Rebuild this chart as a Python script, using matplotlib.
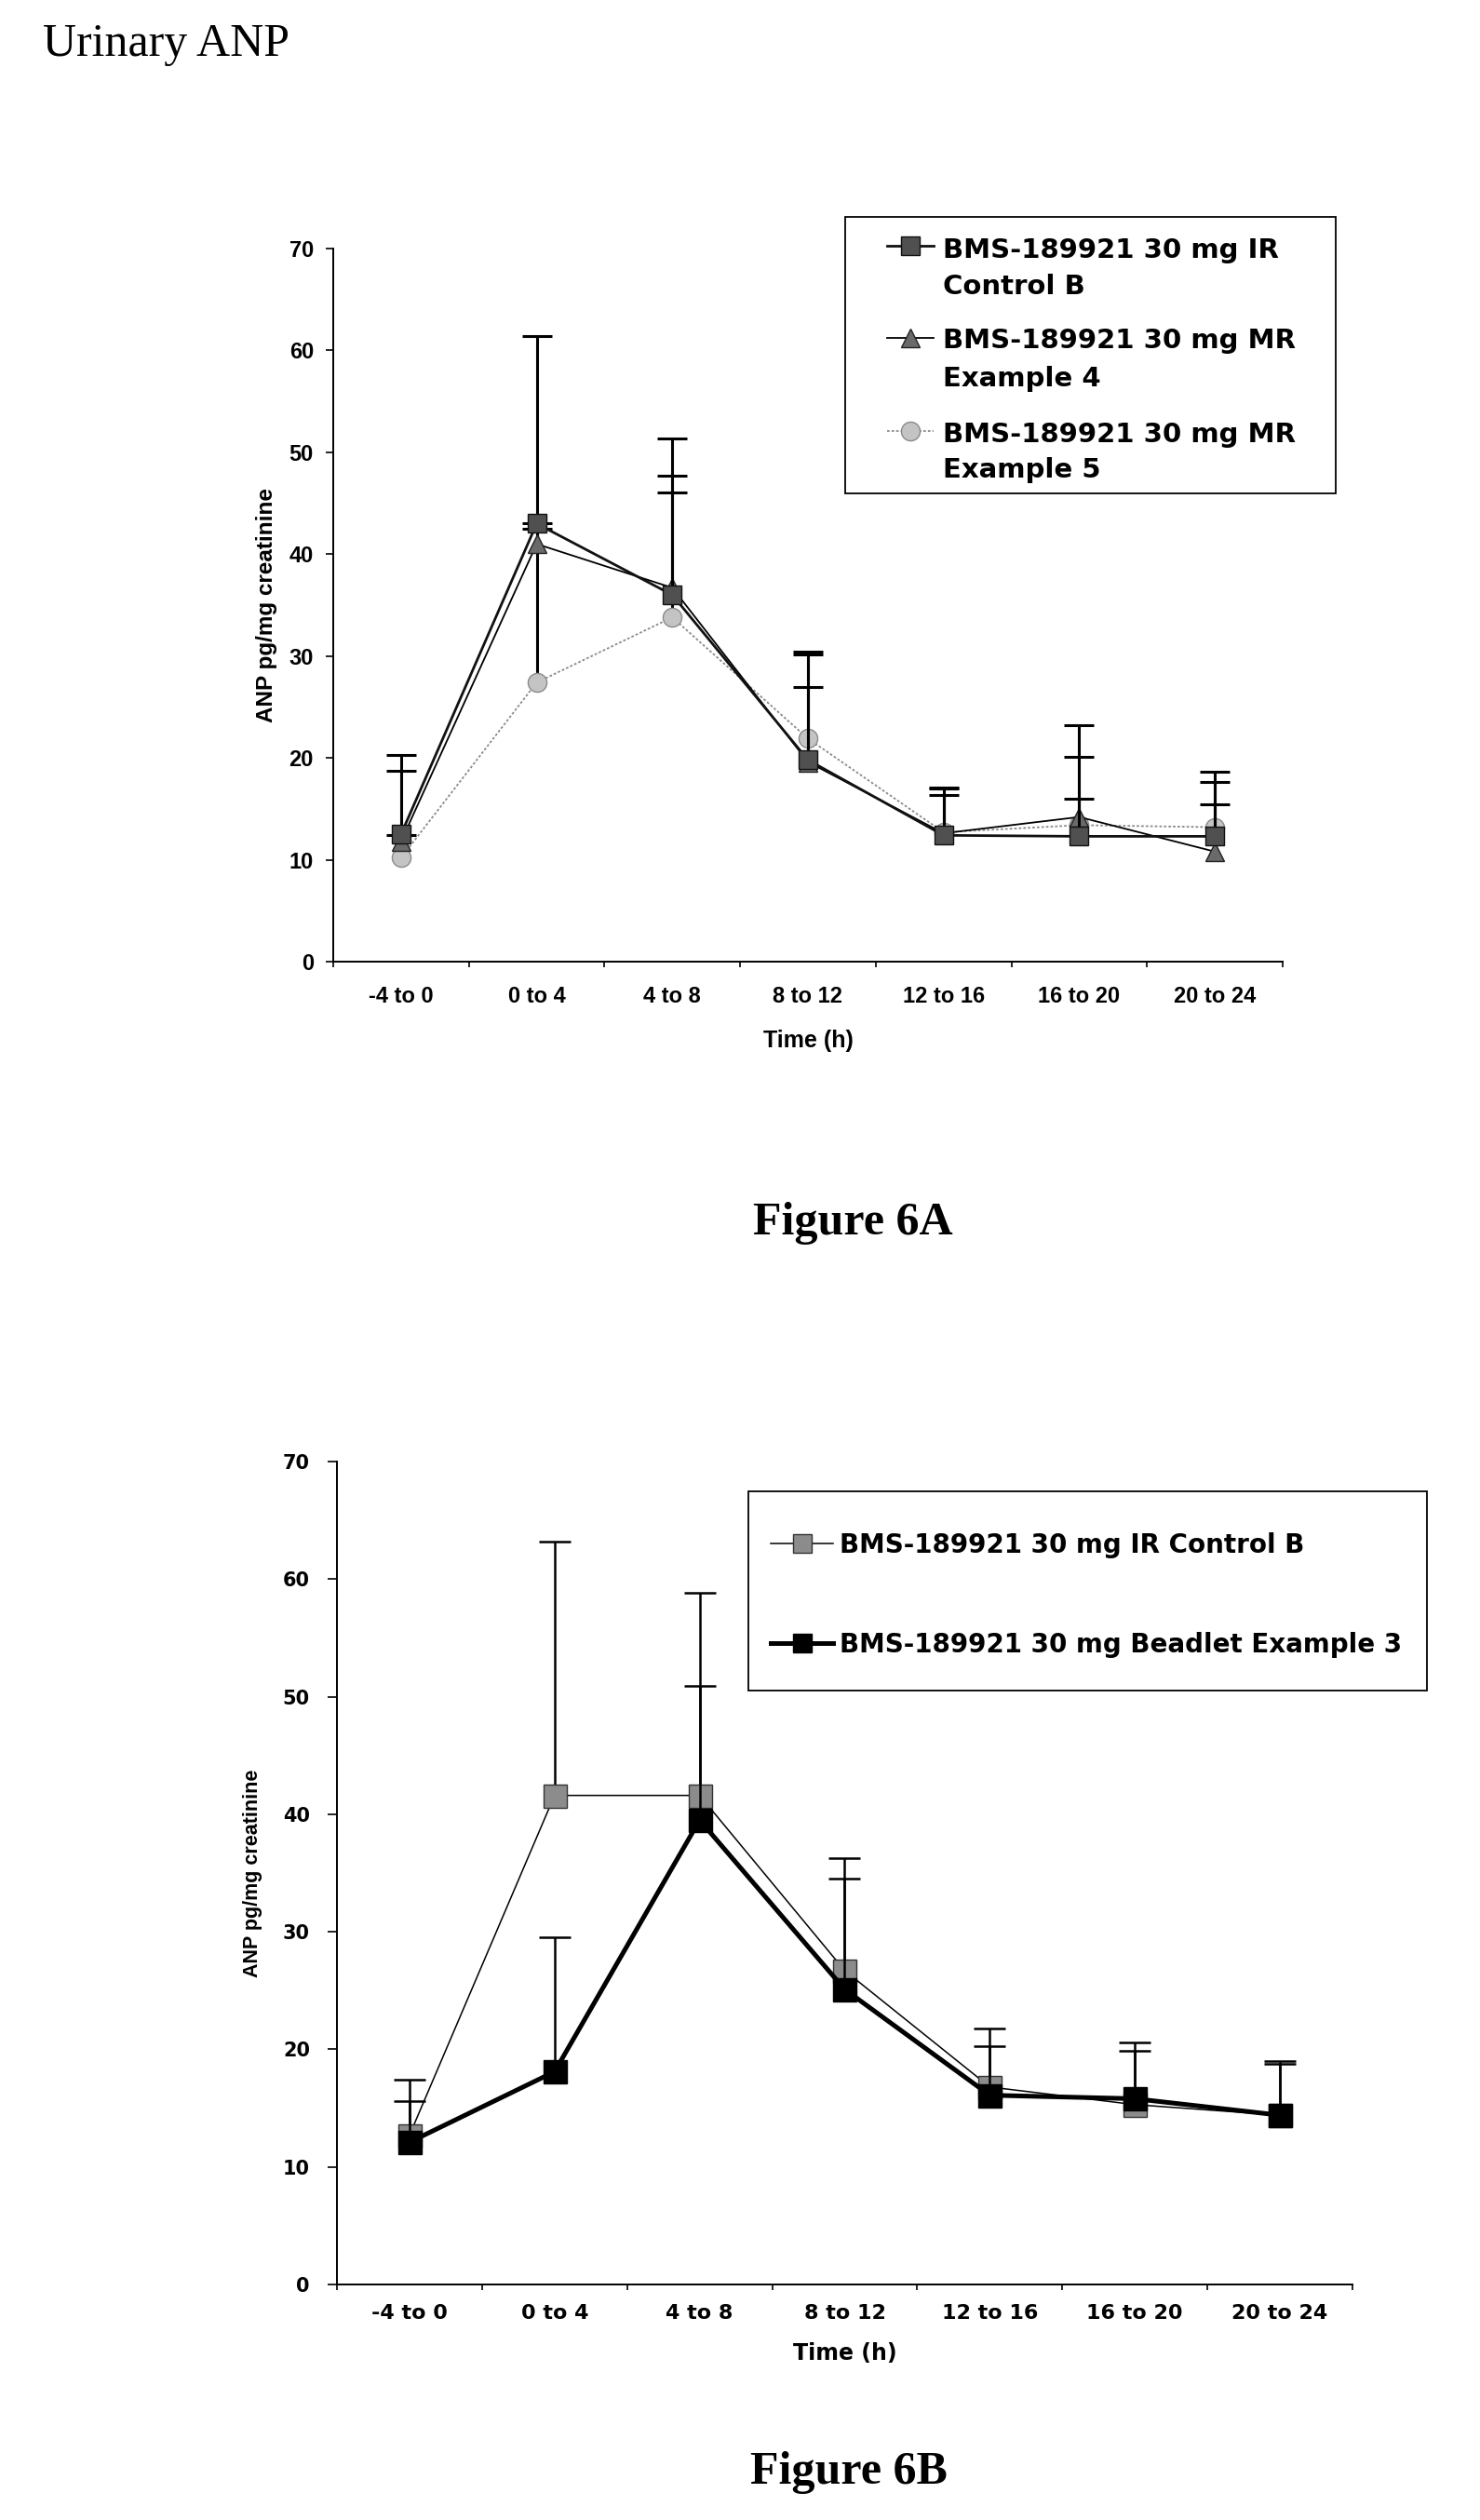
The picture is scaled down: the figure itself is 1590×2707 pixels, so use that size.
import matplotlib
matplotlib.use("Agg")
import matplotlib.pyplot as plt
import numpy as np
from matplotlib.lines import Line2D
from matplotlib.patches import Rectangle

W, H, DPI = 1590, 2707, 100

# ---------------- data ----------------
categories = ["-4 to 0", "0 to 4", "4 to 8", "8 to 12", "12 to 16", "16 to 20", "20 to 24"]
yticks = [0, 10, 20, 30, 40, 50, 60, 70]

# Figure 6A (mean and mean + error)
a_ir_mean = [12.5, 43.0, 36.0, 19.8, 12.4, 12.3, 12.3]
a_ir_upper = [20.3, 61.4, 51.4, 27.0, 16.4, 16.0, 17.6]
a_ex4_mean = [11.8, 41.0, 36.7, 19.6, 12.6, 14.2, 10.8]
a_ex4_upper = [18.7, 43.0, 47.7, 30.2, 17.0, 23.2, 15.4]
a_ex5_mean = [10.2, 27.4, 33.8, 21.9, 12.7, 13.4, 13.2]
a_ex5_upper = [12.4, 42.5, 46.1, 30.4, 17.1, 20.1, 18.6]
a_labels = [("BMS-189921 30 mg IR", "Control B"),
            ("BMS-189921 30 mg MR", "Example 4"),
            ("BMS-189921 30 mg MR", "Example 5")]

# Figure 6B
b_ir_mean = [12.7, 41.6, 41.6, 26.7, 16.8, 15.3, 14.4]
b_ir_upper = [17.4, 63.2, 50.9, 36.3, 21.8, 20.6, 19.0]
b_bead_mean = [12.1, 18.1, 39.5, 25.1, 16.1, 15.8, 14.4]
b_bead_upper = [15.6, 29.5, 58.8, 34.5, 20.3, 19.9, 18.8]
b_labels = ["BMS-189921 30 mg IR Control B", "BMS-189921 30 mg Beadlet Example 3"]

# ---------------- helpers ----------------
SERIF = ["Liberation Serif", "DejaVu Serif"]
ARIAL = ["Liberation Sans", "DejaVu Sans"]
WIDE = ["DejaVu Sans"]


def fx(px):
    return px / W


def fy(py):
    return 1 - py / H


def ax_rect(l, r, top, bottom):
    return [l / W, 1 - bottom / H, (r - l) / W, (bottom - top) / H]


fig = plt.figure(figsize=(W / DPI, H / DPI), dpi=DPI)
fig.patch.set_facecolor("white")


def style_axes(ax, fam, yfs, xfs, ylen, ypad, xlen, xpad):
    ax.set_xlim(-0.5, 6.5)
    ax.set_ylim(0, 70)
    for s in ("top", "right"):
        ax.spines[s].set_visible(False)
    for s in ("left", "bottom"):
        ax.spines[s].set_linewidth(1.4)
    ax.set_yticks(yticks)
    ax.set_yticklabels([str(v) for v in yticks], family=fam, weight="bold", fontsize=yfs)
    ax.set_xticks(np.arange(-0.5, 7.0, 1.0))
    ax.set_xticks(np.arange(len(categories)), minor=True)
    ax.set_xticklabels(categories, minor=True, family=fam, weight="bold", fontsize=xfs)
    ax.tick_params(axis="x", which="major", length=xlen, width=1.2, labelbottom=False, direction="out")
    ax.tick_params(axis="x", which="minor", length=0, pad=xpad)
    ax.tick_params(axis="y", which="major", length=ylen, width=1.2, pad=ypad, direction="out")


def series(ax, mean, upper, marker, ms, mfc, mec, lc, lw, ls, elw, cap, z, label):
    mean = np.asarray(mean, float)
    upper = np.asarray(upper, float)
    xs = np.arange(len(mean))
    eb = ax.errorbar(xs, mean, yerr=[np.zeros_like(mean), upper - mean], fmt="none",
                     ecolor="black", elinewidth=elw, capsize=cap, capthick=elw, zorder=z)
    for cl in eb[1]:
        if np.allclose(np.asarray(cl.get_ydata(), float), mean):
            cl.set_visible(False)
    ax.plot(xs, mean, color=lc, lw=lw, ls=ls, marker=marker, ms=ms, mfc=mfc, mec=mec,
            mew=1.0, zorder=z + 1, clip_on=False, label=label)


def legend_handle(x0, x1, y, lc, lw, ls, marker, ms, mfc, mec):
    fig.add_artist(Line2D([fx(x0), fx(x1)], [fy(y), fy(y)], transform=fig.transFigure,
                          color=lc, lw=lw, ls=ls))
    fig.add_artist(Line2D([fx((x0 + x1) / 2)], [fy(y)], transform=fig.transFigure,
                          marker=marker, ms=ms, mfc=mfc, mec=mec, mew=1.0, ls="none"))


# ---------------- page texts ----------------
fig.text(fx(46), fy(60), "Urinary ANP", family=SERIF, fontsize=36, va="baseline", ha="left")
fig.text(fx(916), fy(1326), "Figure 6A", family=SERIF, weight="bold", fontsize=36,
         va="baseline", ha="center")
fig.text(fx(912), fy(2668), "Figure 6B", family=SERIF, weight="bold", fontsize=36,
         va="baseline", ha="center")

# ---------------- Figure 6A ----------------
axA = fig.add_axes(ax_rect(358, 1378, 267, 1033))
style_axes(axA, ARIAL, 17, 17, ylen=5.8, ypad=9.4, xlen=4.5, xpad=18.5)

sA = [
    dict(mean=a_ex5_mean, upper=a_ex5_upper, marker="o", ms=14.5, mfc="#c4c4c4", mec="#8a8a8a",
         lc="#8a8a8a", lw=1.3, ls=(0, (1.5, 1.2)), z=3),
    dict(mean=a_ex4_mean, upper=a_ex4_upper, marker="^", ms=15, mfc="#6a6a6a", mec="#222222",
         lc="black", lw=1.3, ls="-", z=5),
    dict(mean=a_ir_mean, upper=a_ir_upper, marker="s", ms=15, mfc="#505050", mec="#111111",
         lc="#111111", lw=2.0, ls="-", z=7),
]
for s, lab in zip(sA, [" ".join(a_labels[2]), " ".join(a_labels[1]), " ".join(a_labels[0])]):
    series(axA, s["mean"], s["upper"], s["marker"], s["ms"], s["mfc"], s["mec"], s["lc"],
           s["lw"], s["ls"], elw=2.2, cap=11.5, z=s["z"], label=lab)

axA.set_ylabel("ANP pg/mg creatinine", family=ARIAL, weight="bold", fontsize=17.5, va="center")
axA.yaxis.set_label_coords((286 - 358) / 1020, 0.5)
axA.set_xlabel("Time (h)", family=ARIAL, weight="bold", fontsize=18, va="center")
axA.xaxis.set_label_coords(0.5, -(1118 - 1033) / (1033 - 267))

# legend for 6A
fig.add_artist(Rectangle((fx(908), fy(530)), (1435 - 908) / W, (530 - 233) / H,
                         transform=fig.transFigure, fill=False, ec="black", lw=1.3))
legA_style = [sA[2], sA[1], sA[0]]
legA_rows = [(264, 277, 316), (363, 374, 415), (463, 475, 513)]
for (yc, b1, b2), st, (l1, l2) in zip(legA_rows, legA_style, a_labels):
    legend_handle(953, 1003, yc, st["lc"], st["lw"], st["ls"], st["marker"], st["ms"],
                  st["mfc"], st["mec"])
    fig.text(fx(1013), fy(b1), l1, family=WIDE, weight="bold", fontsize=21, va="baseline")
    fig.text(fx(1013), fy(b2), l2, family=WIDE, weight="bold", fontsize=21, va="baseline")

# ---------------- Figure 6B ----------------
axB = fig.add_axes(ax_rect(362, 1453, 1570, 2454))
style_axes(axB, WIDE, 15, 16, ylen=7.2, ypad=13.7, xlen=4.5, xpad=15.3)

sB = [
    dict(mean=b_ir_mean, upper=b_ir_upper, marker="s", ms=18, mfc="#8c8c8c", mec="#333333",
         lc="black", lw=1.1, ls="-", z=3),
    dict(mean=b_bead_mean, upper=b_bead_upper, marker="s", ms=18, mfc="black", mec="black",
         lc="black", lw=3.6, ls="-", z=5),
]
for s, lab in zip(sB, b_labels):
    series(axB, s["mean"], s["upper"], s["marker"], s["ms"], s["mfc"], s["mec"], s["lc"],
           s["lw"], s["ls"], elw=1.8, cap=12, z=s["z"], label=lab)

axB.set_ylabel("ANP pg/mg creatinine", family=ARIAL, weight="bold", fontsize=15.5, va="center")
axB.yaxis.set_label_coords((271 - 362) / 1091, 0.5)
axB.set_xlabel("Time (h)", family=WIDE, weight="bold", fontsize=17, va="center")
axB.xaxis.set_label_coords(0.5, -(2528 - 2454) / (2454 - 1570))

fig.add_artist(Rectangle((fx(804), fy(1816)), (1533 - 804) / W, (1816 - 1602) / H,
                         transform=fig.transFigure, fill=False, ec="black", lw=1.3))
legB_rows = [(1658, 1668), (1765, 1775)]
for (yc, bl), st, lab in zip(legB_rows, sB, b_labels):
    legend_handle(828, 895, yc, st["lc"], st["lw"], st["ls"], st["marker"], 14,
                  st["mfc"], st["mec"])
    fig.text(fx(902), fy(bl), lab, family=WIDE, weight="bold", fontsize=20, va="baseline")

fig.savefig("out.png", dpi=DPI, facecolor="white")
